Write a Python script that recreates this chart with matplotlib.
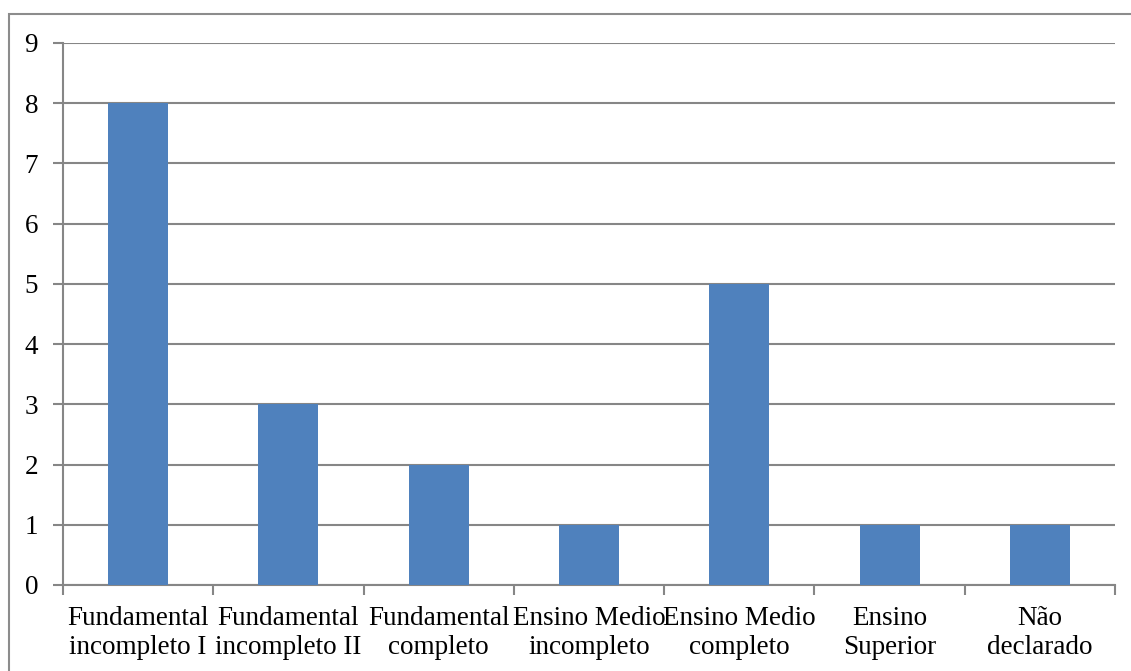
import matplotlib.pyplot as plt
from matplotlib.patches import Rectangle

# Escolaridade dos participantes
categories = [
    "Fundamental\nincompleto I",
    "Fundamental\nincompleto II",
    "Fundamental\ncompleto",
    "Ensino Medio\nincompleto",
    "Ensino Medio\ncompleto",
    "Ensino\nSuperior",
    "Não\ndeclarado",
]
counts = [8, 3, 2, 1, 5, 1, 1]
y_ticks = list(range(0, 10))

plt.rcParams['font.family'] = ['Liberation Serif', 'DejaVu Serif']
plt.rcParams['font.size'] = 19.5

grid_color = "#868686"
bar_color = "#4F81BD"

fig = plt.figure(figsize=(11.31, 6.71), dpi=100)
ax = fig.add_axes([63 / 1131, 1 - 585 / 671, (1115 - 63) / 1131, (585 - 43) / 671])

x = list(range(len(categories)))
ax.bar(x, counts, width=0.4, color=bar_color, zorder=3)

ax.set_xlim(-0.5, len(categories) - 0.5)
ax.set_ylim(0, 9)
ax.set_yticks(y_ticks)
ax.yaxis.grid(True, color=grid_color, linewidth=1.5, zorder=0)

# category separators as outward ticks on the x axis
ax.set_xticks([i - 0.5 for i in range(len(categories) + 1)])
ax.set_xticklabels([])
ax.set_xticks(x, minor=True)
ax.set_xticklabels(categories, minor=True, linespacing=1.2)
ax.tick_params(axis='x', which='major', length=7, width=1.5, color=grid_color, direction='out')
ax.tick_params(axis='x', which='minor', length=0, pad=15)
ax.tick_params(axis='y', length=7, width=1.5, color=grid_color, pad=11)

for side in ("top", "right"):
    ax.spines[side].set_visible(False)
for side in ("left", "bottom"):
    ax.spines[side].set_color(grid_color)
    ax.spines[side].set_linewidth(1.5)

# chart area border
fig.patches.append(Rectangle((9 / 1131, -0.1), 1.2, 1 - 14 / 671 + 0.1,
                             transform=fig.transFigure, fill=False,
                             edgecolor="#8c8c8c", linewidth=1.5))

fig.savefig("out.png", dpi=100)
